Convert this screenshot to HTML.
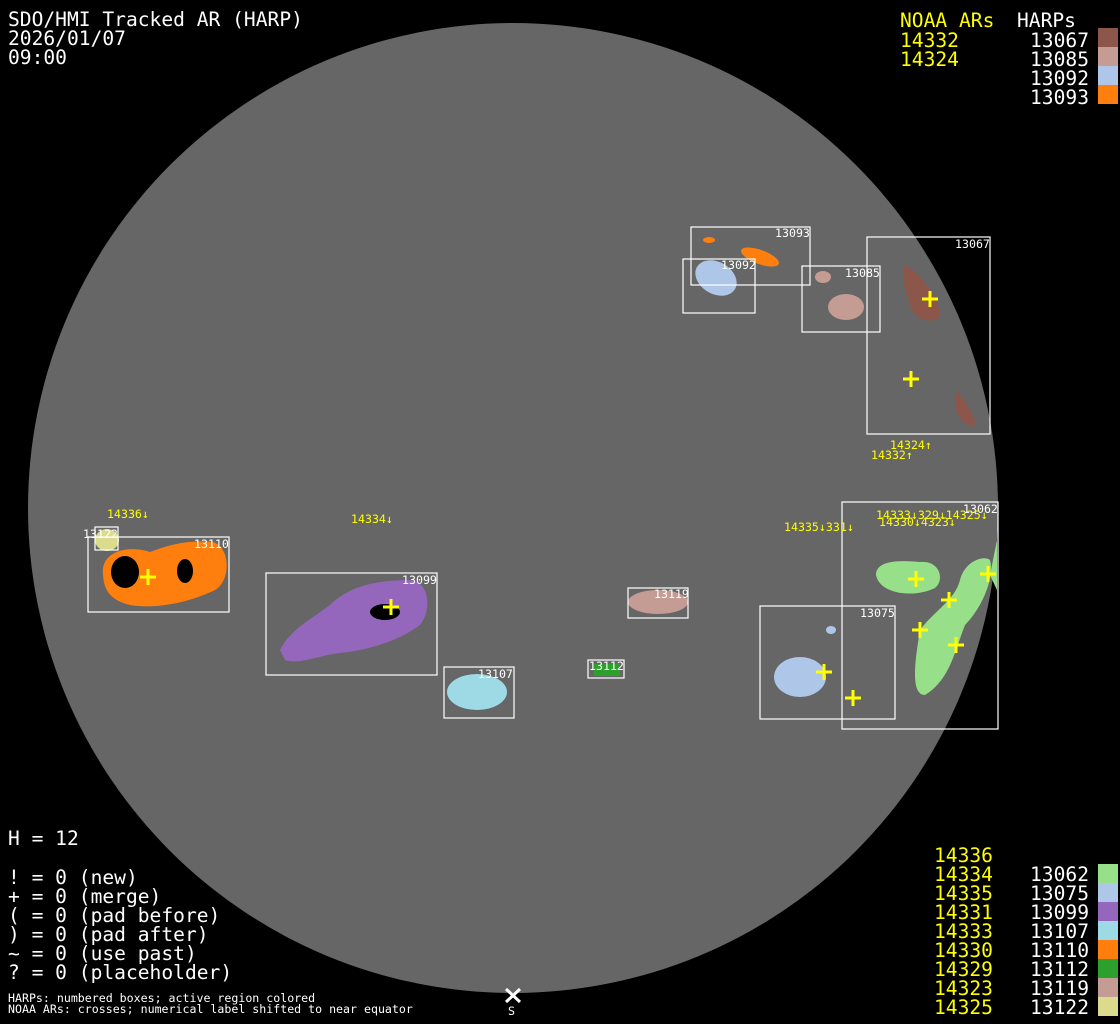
<!DOCTYPE html>
<html><head><meta charset="utf-8"><style>
html,body{margin:0;padding:0;background:#000;}
svg{display:block}
text{font-family:"DejaVu Sans Mono","Liberation Mono",monospace;}
.h{font-size:19.6px;fill:#fff}
.y{font-size:19.6px;fill:#ffff00}
.s{font-size:11.6px;fill:#fff}
.sy{font-size:11.6px;fill:#ffff00}
.b{fill:none;stroke:#fff;stroke-width:1.2}
.c{stroke:#ffff00;stroke-width:3}
</style></head><body>
<svg width="1120" height="1024" viewBox="0 0 1120 1024" xmlns="http://www.w3.org/2000/svg">
<rect width="1120" height="1024" fill="#000"/>
<circle cx="513" cy="508" r="485" fill="#666"/>
<!-- header -->
<text class="h" x="8" y="26">SDO/HMI Tracked AR (HARP)</text>
<text class="h" x="8" y="45">2026/01/07</text>
<text class="h" x="8" y="64">09:00</text>
<text class="y" x="900" y="27">NOAA ARs</text>
<text class="h" x="1017" y="27">HARPs</text>
<text class="y" x="900" y="47">14332</text>
<text class="y" x="900" y="66">14324</text>
<g class="h" text-anchor="end">
<text x="1089" y="47">13067</text><text x="1089" y="66">13085</text><text x="1089" y="85">13092</text><text x="1089" y="104">13093</text>
</g>
<rect x="1098" y="28" width="20" height="19" fill="#8c564b"/>
<rect x="1098" y="47" width="20" height="19" fill="#c49c94"/>
<rect x="1098" y="66" width="20" height="19" fill="#aec7e8"/>
<rect x="1098" y="85" width="20" height="19" fill="#ff7f0e"/>
<!-- bottom left -->
<text class="h" x="8" y="845">H = 12</text>
<text class="h" x="8" y="884">! = 0 (new)</text>
<text class="h" x="8" y="903">+ = 0 (merge)</text>
<text class="h" x="8" y="922">( = 0 (pad before)</text>
<text class="h" x="8" y="941">) = 0 (pad after)</text>
<text class="h" x="8" y="960">~ = 0 (use past)</text>
<text class="h" x="8" y="979">? = 0 (placeholder)</text>
<text class="s" x="8" y="1002">HARPs: numbered boxes; active region colored</text>
<text class="s" x="8" y="1013">NOAA ARs: crosses; numerical label shifted to near equator</text>
<path d="M506 989 L520 1002 M520 989 L506 1002" stroke="#fff" stroke-width="3"/>
<text class="s" x="508" y="1015">S</text>
<!-- bottom right -->
<g class="y">
<text x="934" y="862">14336</text><text x="934" y="881">14334</text><text x="934" y="900">14335</text><text x="934" y="919">14331</text><text x="934" y="938">14333</text><text x="934" y="957">14330</text><text x="934" y="976">14329</text><text x="934" y="995">14323</text><text x="934" y="1014">14325</text>
</g>
<g class="h" text-anchor="end">
<text x="1089" y="881">13062</text><text x="1089" y="900">13075</text><text x="1089" y="919">13099</text><text x="1089" y="938">13107</text><text x="1089" y="957">13110</text><text x="1089" y="976">13112</text><text x="1089" y="995">13119</text><text x="1089" y="1014">13122</text>
</g>
<rect x="1098" y="864" width="20" height="19" fill="#98df8a"/>
<rect x="1098" y="883" width="20" height="19" fill="#aec7e8"/>
<rect x="1098" y="902" width="20" height="19" fill="#9467bd"/>
<rect x="1098" y="921" width="20" height="19" fill="#9edae5"/>
<rect x="1098" y="940" width="20" height="19" fill="#ff7f0e"/>
<rect x="1098" y="959" width="20" height="19" fill="#2ca02c"/>
<rect x="1098" y="978" width="20" height="19" fill="#c49c94"/>
<rect x="1098" y="997" width="20" height="19" fill="#dbdb8d"/>
<!-- regions -->
<path d="M103 575 C100 550 130 545 150 552 C170 545 185 540 212 542 C230 545 232 580 215 590 C195 600 160 610 130 605 C110 600 104 590 103 575Z" fill="#ff7f0e"/>
<ellipse cx="125" cy="572" rx="14" ry="16" fill="#000"/>
<ellipse cx="185" cy="571" rx="8" ry="12" fill="#000"/>
<ellipse cx="107" cy="540" rx="12" ry="11" fill="#dbdb8d"/>
<path d="M280 650 C290 630 310 620 330 605 C350 585 380 580 410 580 C430 582 432 610 420 625 C400 640 370 650 340 653 C320 655 300 665 285 660Z" fill="#9467bd"/>
<ellipse cx="385" cy="612" rx="15" ry="8" fill="#000"/>
<ellipse cx="477" cy="692" rx="30" ry="18" fill="#9edae5"/>
<ellipse cx="658" cy="602" rx="30" ry="12" fill="#c49c94"/>
<rect x="594" y="664" width="26" height="12" fill="#2ca02c"/>
<ellipse cx="800" cy="677" rx="26" ry="20" fill="#aec7e8"/>
<ellipse cx="831" cy="630" rx="5" ry="4" fill="#aec7e8"/>
<path d="M876 575 C876 560 900 560 920 562 C940 560 945 580 935 588 C915 598 880 595 876 575Z" fill="#98df8a"/>
<path d="M920 630 C935 610 955 600 960 580 C965 560 985 555 990 560 C995 580 980 610 965 625 C955 650 950 680 925 695 C910 695 915 660 920 630Z" fill="#98df8a"/>
<path d="M990 575 L997 540 L997 590Z" fill="#98df8a"/>
<ellipse cx="716" cy="278" rx="22" ry="16" transform="rotate(30 716 278)" fill="#aec7e8"/>
<ellipse cx="760" cy="257" rx="20" ry="7" transform="rotate(20 760 257)" fill="#ff7f0e"/>
<ellipse cx="709" cy="240" rx="6" ry="3" fill="#ff7f0e"/>
<ellipse cx="823" cy="277" rx="8" ry="6" fill="#c49c94"/>
<ellipse cx="846" cy="307" rx="18" ry="13" fill="#c49c94"/>
<path d="M905 265 C915 270 940 295 940 315 C935 325 915 322 910 305 C905 290 900 270 905 265Z" fill="#8c564b"/>
<path d="M955 390 C965 400 975 415 975 425 C968 428 958 420 955 405Z" fill="#8c564b"/>
<!-- boxes -->
<g class="b">
<rect x="88" y="537" width="141" height="75"/>
<rect x="95" y="527" width="23" height="23"/>
<rect x="266" y="573" width="171" height="102"/>
<rect x="444" y="667" width="70" height="51"/>
<rect x="628" y="588" width="60" height="30"/>
<rect x="588" y="660" width="36" height="18"/>
<rect x="760" y="606" width="135" height="113"/>
<rect x="842" y="502" width="156" height="227"/>
<rect x="691" y="227" width="119" height="58"/>
<rect x="683" y="259" width="72" height="54"/>
<rect x="802" y="266" width="78" height="66"/>
<rect x="867" y="237" width="123" height="197"/>
</g>
<g class="s">
<text x="194" y="548">13110</text><text x="83" y="538">13122</text><text x="402" y="584">13099</text><text x="478" y="678">13107</text><text x="654" y="598">13119</text><text x="589" y="670">13112</text><text x="860" y="617">13075</text><text x="963" y="513">13062</text><text x="775" y="237">13093</text><text x="721" y="269">13092</text><text x="845" y="277">13085</text><text x="955" y="248">13067</text>
</g>
<g class="sy">
<text x="107" y="518">14336↓</text><text x="351" y="523">14334↓</text><text x="784" y="531">14335↓331↓</text><text x="876" y="519">14333↓329↓14325↓</text><text x="879" y="526">14330↓4323↓</text><text x="890" y="449">14324↑</text><text x="871" y="459">14332↑</text>
</g>
<g class="c">
<path d="M140 577h16M148 569v16"/><path d="M383 607h16M391 599v16"/>
<path d="M816 672h16M824 664v16"/><path d="M845 698h16M853 690v16"/>
<path d="M908 579h16M916 571v16"/><path d="M941 600h16M949 592v16"/>
<path d="M912 630h16M920 622v16"/><path d="M948 645h16M956 637v16"/>
<path d="M980 574h16M988 566v16"/>
<path d="M922 299h16M930 291v16"/><path d="M903 379h16M911 371v16"/>
</g>
</svg>
</body></html>
